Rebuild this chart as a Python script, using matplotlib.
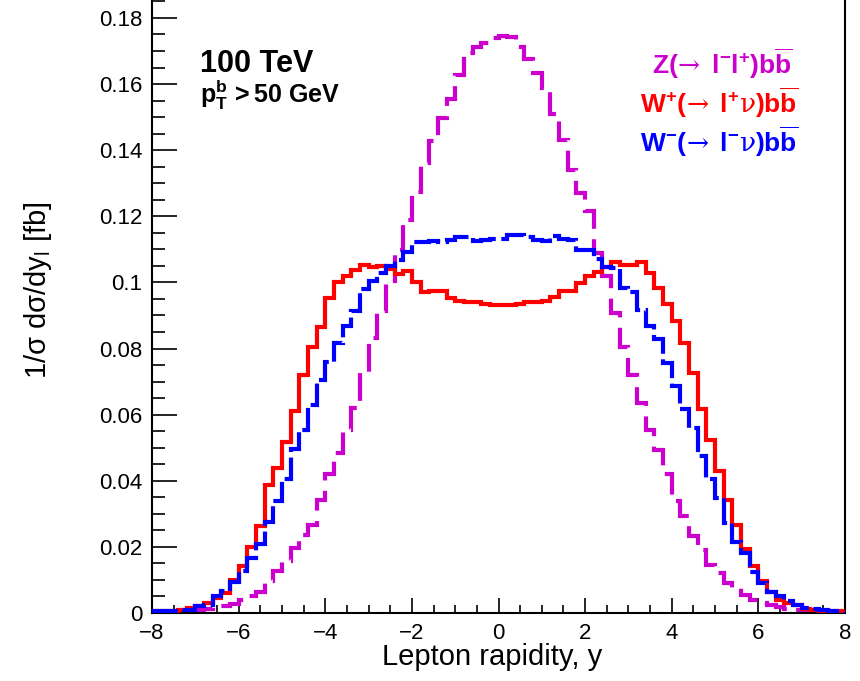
import numpy as np
import matplotlib
matplotlib.use("Agg")
import matplotlib.pyplot as plt

# ---------------- data ----------------
x_min, x_max, n_bins = -8.0, 8.0, 80

red_wplus = [
    0.0005, 0.0005, 0.0007, 0.0010, 0.0015, 0.0020, 0.0030, 0.0045, 0.0060, 0.0100,
    0.0143, 0.0200, 0.0264, 0.0388, 0.0438, 0.0517, 0.0612, 0.0720, 0.0806, 0.0864,
    0.0952, 0.1000, 0.1020, 0.1036, 0.1053, 0.1048, 0.1050, 0.1040, 0.1026, 0.1033,
    0.1000, 0.0970, 0.0975, 0.0975, 0.0952, 0.0944, 0.0940, 0.0940, 0.0935, 0.0932,
    0.0932, 0.0933, 0.0935, 0.0940, 0.0942, 0.0945, 0.0957, 0.0975, 0.0975, 0.0998,
    0.1018, 0.1030, 0.1046, 0.1063, 0.1053, 0.1053, 0.1063, 0.1028, 0.0982, 0.0935,
    0.0882, 0.0818, 0.0725, 0.0617, 0.0522, 0.0431, 0.0343, 0.0267, 0.0193, 0.0141,
    0.0096, 0.0065, 0.0040, 0.0030, 0.0025, 0.0012, 0.0008, 0.0007, 0.0005, 0.0005,
]

blue_wminus = [
    0.0005, 0.0005, 0.0006, 0.0008, 0.0010, 0.0022, 0.0025, 0.0050, 0.0068, 0.0095,
    0.0128, 0.0165, 0.0210, 0.0275, 0.0340, 0.0405, 0.0495, 0.0554, 0.0630, 0.0705,
    0.0758, 0.0816, 0.0868, 0.0912, 0.0980, 0.1003, 0.1028, 0.1050, 0.1068, 0.1093,
    0.1123, 0.1122, 0.1125, 0.1123, 0.1128, 0.1136, 0.1136, 0.1126, 0.1128, 0.1132,
    0.1132, 0.1143, 0.1143, 0.1136, 0.1128, 0.1126, 0.1140, 0.1131, 0.1129, 0.1098,
    0.1098, 0.1070, 0.1047, 0.1043, 0.0982, 0.0970, 0.0917, 0.0867, 0.0828, 0.0756,
    0.0687, 0.0617, 0.0559, 0.0476, 0.0405, 0.0348, 0.0272, 0.0214, 0.0180, 0.0125,
    0.0090, 0.0065, 0.0050, 0.0035, 0.0025, 0.0015, 0.0012, 0.0008, 0.0007, 0.0005,
]

magenta_z = [
    0.0001, 0.0002, 0.0003, 0.0005, 0.0007, 0.0010, 0.0012, 0.0015, 0.0020, 0.0028,
    0.0038, 0.0050, 0.0065, 0.0096, 0.0126, 0.0156, 0.0196, 0.0237, 0.0267, 0.0343,
    0.0421, 0.0484, 0.0554, 0.0620, 0.0725, 0.0831, 0.0912, 0.1003, 0.1098, 0.1190,
    0.1274, 0.1360, 0.1429, 0.1496, 0.1554, 0.1626, 0.1693, 0.1712, 0.1725, 0.1738,
    0.1745, 0.1742, 0.1711, 0.1675, 0.1634, 0.1587, 0.1510, 0.1430, 0.1340, 0.1271,
    0.1217, 0.1090, 0.1018, 0.0907, 0.0806, 0.0720, 0.0635, 0.0555, 0.0494, 0.0421,
    0.0338, 0.0292, 0.0234, 0.0190, 0.0145, 0.0120, 0.0090, 0.0075, 0.0055, 0.0040,
    0.0030, 0.0025, 0.0018, 0.0012, 0.0010, 0.0008, 0.0005, 0.0003, 0.0002, 0.0001,
]

x_ticks = [-8, -6, -4, -2, 0, 2, 4, 6, 8]
x_tick_labels = ["\u22128", "\u22126", "\u22124", "\u22122", "0", "2", "4", "6", "8"]
y_ticks = [0, 0.02, 0.04, 0.06, 0.08, 0.1, 0.12, 0.14, 0.16, 0.18]
y_tick_labels = ["0", "0.02", "0.04", "0.06", "0.08", "0.1", "0.12", "0.14", "0.16", "0.18"]

legend_labels = [
    r"$\mathbf{Z(}\!\mathsf{\rightarrow}\mathbf{\ l^{-}l^{+})b\overline{b}}$",
    r"$\mathbf{W^{+}(}\!\mathsf{\rightarrow}\mathbf{\ l^{+}}\mathsf{\nu}\mathbf{)b\overline{b}}$",
    r"$\mathbf{W^{-}(}\!\mathsf{\rightarrow}\mathbf{\ l^{-}}\mathsf{\nu}\mathbf{)b\overline{b}}$",
]

# ---------------- style ----------------
plt.rcParams["font.family"] = ["Liberation Sans", "DejaVu Sans"]
plt.rcParams["mathtext.fontset"] = "custom"
plt.rcParams["mathtext.rm"] = "Liberation Sans"
plt.rcParams["mathtext.it"] = "Liberation Sans:italic"
plt.rcParams["mathtext.bf"] = "Liberation Sans:bold"
plt.rcParams["mathtext.sf"] = "DejaVu Serif"
plt.rcParams["lines.scale_dashes"] = False

W, H = 860, 681
fig = plt.figure(figsize=(W / 100, H / 100), dpi=100)
ax = fig.add_axes([152 / W, (H - 613) / H, (845 - 152) / W, 613 / H])

edges = np.linspace(x_min, x_max, n_bins + 1)

col_mag = "#CC00CC"
col_red = "#FF0000"
col_blue = "#0000FF"
lw = 3.0

ax.stairs(red_wplus, edges, color=col_red, linewidth=lw, zorder=3)
sb = ax.stairs(blue_wminus, edges, color=col_blue, linewidth=lw, zorder=4)
sb.set_linestyle((0, (20, 4.0)))
sm = ax.stairs(magenta_z, edges, color=col_mag, linewidth=lw, zorder=2)
sm.set_linestyle((0, (20, 7.5)))

ax.set_xlim(x_min, x_max)
ax.set_ylim(0, 613 / 3306.0)

ax.set_xticks(x_ticks)
ax.set_xticklabels(x_tick_labels)
ax.set_yticks(y_ticks)
ax.set_yticklabels(y_tick_labels)
ax.set_xticks(np.arange(x_min, x_max + 0.001, 0.5), minor=True)
ax.set_yticks(np.arange(0, 0.1851, 0.005), minor=True)

ax.tick_params(axis="both", which="both", direction="in", labelsize=16, width=1.2,
               top=False, right=False, colors="black")
ax.tick_params(axis="x", which="major", length=11, pad=7)
ax.tick_params(axis="x", which="minor", length=5.5)
ax.tick_params(axis="y", which="major", length=18, pad=7)
ax.tick_params(axis="y", which="minor", length=9.5)

for s in ["left", "bottom", "right"]:
    ax.spines[s].set_linewidth(1.5)
ax.spines["top"].set_visible(False)

fig.text(492 / W, 1 - 657 / H, "Lepton rapidity, y", fontsize=21,
         ha="center", va="center")
fig.text(38 / W, 1 - 290 / H, r"$\mathregular{1/\sigma\ d\sigma/dy_{l}\ [fb]}$",
         fontsize=21, rotation=90, ha="center", va="center")

fig.text(200 / W, 1 - 72 / H, "100 TeV", fontsize=22, fontweight="bold",
         ha="left", va="baseline")
fig.text(200 / W, 1 - 103 / H, r"$\mathbf{p_{T}^{b}\,> 50\ GeV}$", fontsize=18,
         ha="left", va="baseline")

leg_colors = [col_mag, col_red, col_blue]
leg_x = [652, 640, 640]
leg_y = [74, 113, 152]
for lab, c, lx, ly in zip(legend_labels, leg_colors, leg_x, leg_y):
    fig.text(lx / W, 1 - ly / H, lab, fontsize=19, color=c, ha="left", va="baseline")

fig.savefig("out.png", dpi=100)
